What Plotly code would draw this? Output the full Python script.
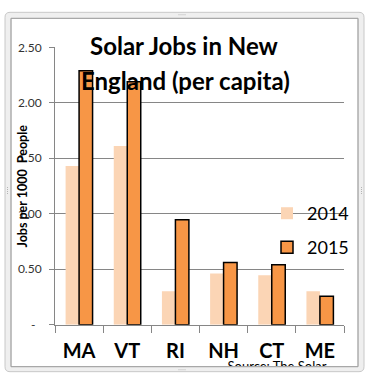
import plotly.graph_objects as go

states = ["MA", "VT", "RI", "NH", "CT", "ME"]
jobs_2014 = [1.43, 1.61, 0.30, 0.46, 0.445, 0.30]
jobs_2015 = [2.29, 2.19, 0.945, 0.56, 0.54, 0.255]
ytick_vals = [0, 0.5, 1.0, 1.5, 2.0, 2.5]
ytick_text = ["-\u00a0\u00a0", "0.50", "1.00", "1.50", "2.00", "2.50"]

W, H = 381, 384
# the photographed page is slightly squeezed vertically: screen_y = 0.96 * (paper_y + 8)
SY, OY = 0.96, 8.0
def px(x):
    return x / W
def py(y):
    return 1 - (y / SY - OY) / H

FONT = "Lato"
GRID = "#868686"

fig = go.Figure()
fig.add_trace(go.Bar(
    x=states, y=jobs_2014, name="2014",
    marker=dict(color="#FBD5B5", line=dict(width=0)),
    legend="legend",
))
fig.add_trace(go.Bar(
    x=states, y=jobs_2015, name="2015",
    marker=dict(color="#F79646", line=dict(color="#000000", width=1.5)),
    legend="legend2",
))

# clipped source note (on a hidden full-page axis whose area ends at the frame)
fig.add_trace(go.Scatter(
    x=[277], y=[367.5], mode="text", text=["Source: The Solar"],
    textfont=dict(family=FONT, size=13, color="#000000"),
    xaxis="x2", yaxis="y2", showlegend=False, cliponaxis=True, hoverinfo="skip",
))

fig.update_layout(
    width=W, height=H,
    margin=dict(l=0, r=0, t=0, b=0),
    paper_bgcolor="#ffffff",
    plot_bgcolor="rgba(0,0,0,0)",
    barmode="group", bargap=0.44, bargroupgap=0,
    font=dict(family=FONT, color="#000000"),
    xaxis=dict(
        domain=[px(55), px(344)],
        showline=True, linecolor=GRID, linewidth=1,
        ticks="outside", ticklen=7, tickcolor=GRID, tickson="boundaries",
        showgrid=False,
        tickfont=dict(family=FONT, size=20, color="#000000", weight="bold"),
        ticklabelstandoff=8,
    ),
    yaxis=dict(
        domain=[py(324), py(47)],
        range=[0, 2.5],
        tickvals=ytick_vals, ticktext=ytick_text,
        showline=True, linecolor=GRID, linewidth=1,
        showgrid=True, gridcolor=GRID, gridwidth=1,
        ticks="outside", ticklen=5, tickcolor=GRID,
        tickfont=dict(family=FONT, size=12, color="#333333"),
        ticklabelstandoff=5,
        zeroline=False,
    ),
    xaxis2=dict(domain=[0, 1], range=[0, W], visible=False, fixedrange=True),
    yaxis2=dict(domain=[py(366), 1], range=[366, SY * OY], visible=False, fixedrange=True),
    legend=dict(
        x=px(267), y=py(213), xanchor="left", yanchor="middle",
        font=dict(family=FONT, size=18, color="#000000"),
        bgcolor="rgba(0,0,0,0)", borderwidth=0,
    ),
    legend2=dict(
        x=px(267), y=py(247), xanchor="left", yanchor="middle",
        font=dict(family=FONT, size=18, color="#000000"),
        bgcolor="rgba(0,0,0,0)", borderwidth=0,
    ),
)

# title (two lines)
fig.add_annotation(x=px(184), y=py(45), xref="paper", yref="paper",
                   text="Solar Jobs in New", showarrow=False,
                   xanchor="center", yanchor="middle",
                   font=dict(family=FONT, size=24, color="#000000", weight="bold"))
fig.add_annotation(x=px(185), y=py(80), xref="paper", yref="paper",
                   text="England (per capita)", showarrow=False,
                   xanchor="center", yanchor="middle",
                   font=dict(family=FONT, size=24, color="#000000", weight="bold"))
# y axis title
fig.add_annotation(x=px(22), y=py(186), xref="paper", yref="paper",
                   text="Jobs per 1000\u00a0 People", showarrow=False, textangle=-90,
                   xanchor="center", yanchor="middle",
                   font=dict(family=FONT, size=12.5, color="#000000", weight="bold"))

# window-like frame
def rrect(x0, y0, x1, y1, r):
    return (f"M{px(x0+r)},{py(y0)} L{px(x1-r)},{py(y0)} Q{px(x1)},{py(y0)} {px(x1)},{py(y0+r)} "
            f"L{px(x1)},{py(y1-r)} Q{px(x1)},{py(y1)} {px(x1-r)},{py(y1)} "
            f"L{px(x0+r)},{py(y1)} Q{px(x0)},{py(y1)} {px(x0)},{py(y1-r)} "
            f"L{px(x0)},{py(y0+r)} Q{px(x0)},{py(y0)} {px(x0+r)},{py(y0)} Z")
outer = rrect(5, 12, 364, 371, 5)
inner = (f"M{px(11)},{py(18)} L{px(358)},{py(18)} L{px(358)},{py(366)} "
         f"L{px(11)},{py(366)} Z")
fig.add_shape(type="path", path=outer + " " + inner, xref="paper", yref="paper",
              fillcolor="#efefef", fillrule="evenodd",
              line=dict(color="#c8c8c8", width=1), layer="above")
fig.add_shape(type="rect", x0=px(11), x1=px(358), y0=py(18), y1=py(366),
              xref="paper", yref="paper", line=dict(color="#a0a0a0", width=1),
              layer="above")
# grip dots on the frame
grips = [(x, 14.5) for x in (179, 181, 183, 185)] + [(x, 369) for x in (179, 181, 183, 185)] \
      + [(7.5, y) for y in (187, 189, 191, 193)] + [(361.5, y) for y in (187, 189, 191, 193)]
for gx, gy in grips:
    fig.add_shape(type="rect", x0=px(gx - 0.5), x1=px(gx + 0.5), y0=py(gy + 0.5), y1=py(gy - 0.5),
                  xref="paper", yref="paper", fillcolor="#b4b4b4", line=dict(width=0),
                  layer="above")

page_fix = (
    "var de=document.documentElement, b=document.body;"
    "de.style.margin='0';de.style.padding='0';de.style.overflow='hidden';"
    "b.style.margin='0';b.style.padding='0';b.style.overflow='hidden';"
)
fig.write_html("out.html", config={"displayModeBar": False}, post_script=page_fix)
